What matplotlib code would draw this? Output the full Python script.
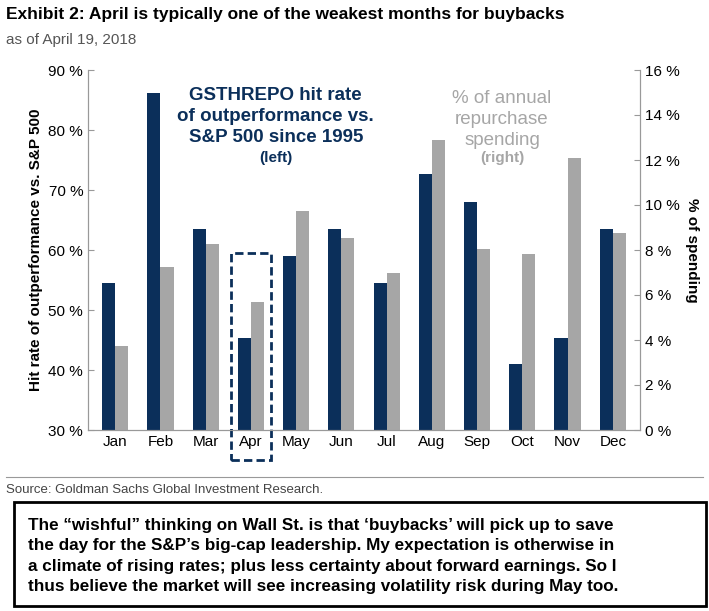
import matplotlib.pyplot as plt
import numpy as np
from matplotlib.patches import Rectangle

months = ["Jan", "Feb", "Mar", "Apr", "May", "Jun", "Jul", "Aug", "Sep", "Oct", "Nov", "Dec"]
hit_rate = [54.5, 86.2, 63.5, 45.4, 59.0, 63.5, 54.5, 72.7, 68.0, 41.0, 45.4, 63.5]
spending = [3.75, 7.26, 8.25, 5.71, 9.75, 8.55, 7.0, 12.9, 8.03, 7.82, 12.1, 8.74]

navy = "#0b2f5a"
grey = "#a6a6a6"
plt.rcParams['font.family'] = ['Liberation Sans', 'DejaVu Sans']

fig = plt.figure(figsize=(7.09, 6.11), dpi=100)
ax = fig.add_axes([88/709, 1-430/611, (640-88)/709, 360/611])
ax2 = ax.twinx()

x = np.arange(len(months))
w = 0.29
ax.bar(x - w/2, [h - 30 for h in hit_rate], w, bottom=30, color=navy, zorder=2)
ax2.bar(x + w/2, spending, w, color=grey, zorder=2)

ax.set_ylim(30, 90)
ax2.set_ylim(0, 16)
ax.set_xlim(-0.6, 11.6)
ax.set_yticks(range(30, 91, 10))
ax.set_yticklabels([f"{v} %" for v in range(30, 91, 10)], fontsize=11)
ax2.set_yticks(range(0, 17, 2))
ax2.set_yticklabels([f"{v} %" for v in range(0, 17, 2)], fontsize=11)
ax.set_xticks(x)
ax.set_xticklabels(months, fontsize=11)
for a in (ax, ax2):
    a.tick_params(length=0)
    a.spines['top'].set_visible(False)
    for s in a.spines.values():
        s.set_color("#999999")
ax.tick_params(axis='y', which='both', left=True, length=4, direction='in', color="#999999")
ax2.tick_params(axis='y', right=True, length=4, direction='in', color="#999999")
ax.set_ylabel("Hit rate of outperformance vs. S&P 500", fontsize=11, fontweight='bold')
ax2.set_ylabel("% of spending", fontsize=11, fontweight='bold', rotation=270, labelpad=14)

# dashed box around April
ax.add_patch(Rectangle((3 - 0.44, 25), 0.88, 59.5 - 25, fill=False, ls=(0, (3, 1.5)),
                       lw=2, ec=navy, clip_on=False, zorder=3))

ax.text(3.55, 82.3, "GSTHREPO hit rate\nof outperformance vs.\nS&P 500 since 1995",
        ha='center', va='center', fontsize=13.5, fontweight='bold', color=navy, linespacing=1.3)
ax.text(3.55, 75.4, "(left)", ha='center', va='center', fontsize=11, fontweight='bold', color=navy)
ax.text(8.55, 81.8, "% of annual\nrepurchase\nspending", ha='center', va='center',
        fontsize=13.5, color=grey, linespacing=1.3)
ax.text(8.55, 75.4, "(right)", ha='center', va='center', fontsize=11, fontweight='bold', color=grey)

fig.text(6/709, 1-14/611, "Exhibit 2: April is typically one of the weakest months for buybacks",
         fontsize=12.5, fontweight='bold', va='center')
fig.text(6/709, 1-40/611, "as of April 19, 2018", fontsize=11, color="#555555", va='center')
fig.add_artist(plt.Line2D([6/709, 703/709], [1-477/611, 1-477/611], color="#999999", lw=0.8))
fig.text(6/709, 1-490/611, "Source: Goldman Sachs Global Investment Research.", fontsize=9.5,
         color="#444444", va='center')
fig.add_artist(Rectangle((14/709, 1-606/611), 692/709, 104/611, fill=False, ec='black', lw=2,
                         transform=fig.transFigure))
fig.text(28/709, 1-556/611,
         "The \u201cwishful\u201d thinking on Wall St. is that \u2018buybacks\u2019 will pick up to save\n"
         "the day for the S&P\u2019s big-cap leadership. My expectation is otherwise in\n"
         "a climate of rising rates; plus less certainty about forward earnings. So I\n"
         "thus believe the market will see increasing volatility risk during May too.",
         fontsize=12.3, fontweight='bold', va='center', linespacing=1.45)

fig.savefig("out.png", dpi=100)
